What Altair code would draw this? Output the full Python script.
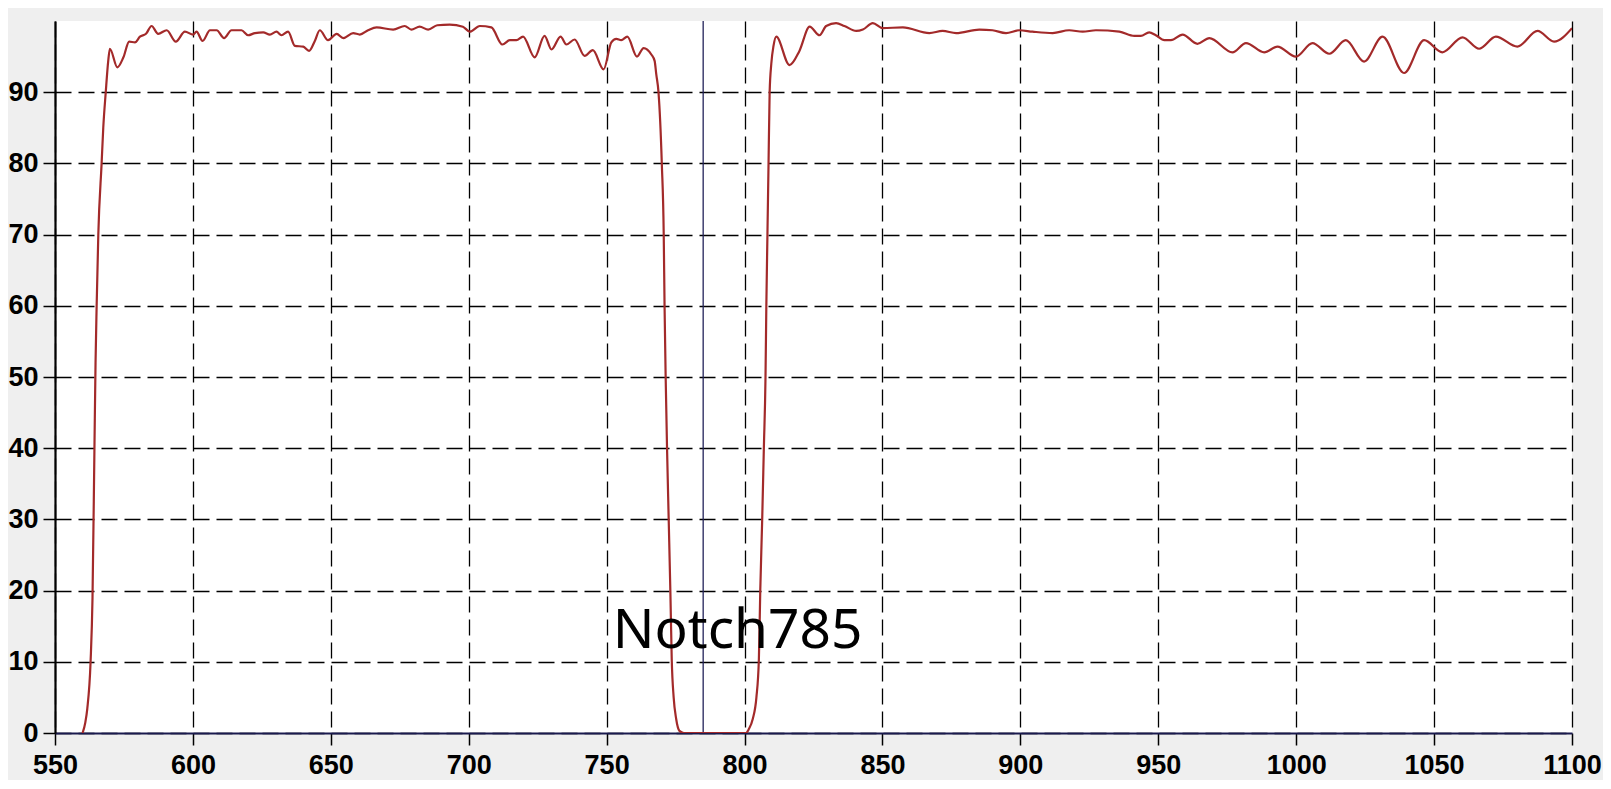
import altair as alt
import pandas as pd

# Transmission curve of the 785 nm notch filter
wavelength = [
    560.0, 561.0, 561.7, 562.9, 563.6, 564.3, 564.7, 565.1, 565.7, 566.9,
    567.5, 568.4, 569.3, 569.9, 572.6, 574.8, 576.9, 579.0, 580.8, 583.0,
    585.0, 587.4, 590.5, 593.8, 597.1, 600.1, 601.3, 603.5, 606.2, 608.6,
    611.3, 614.0, 617.6, 620.0, 622.5, 625.5, 627.9, 630.3, 632.1, 634.5,
    637.0, 640.0, 642.1, 644.2, 646.0, 649.0, 652.1, 654.5, 658.1, 660.5,
    663.5, 666.6, 672.6, 676.8, 679.2, 682.2, 685.3, 688.6, 693.1, 697.9,
    700.4, 704.0, 708.2, 712.2, 714.9, 717.3, 719.7, 723.9, 727.5, 730.0,
    733.3, 735.4, 738.4, 742.0, 745.0, 748.9, 751.7, 753.5, 755.3, 757.5,
    761.0, 763.4, 766.2, 767.4, 768.0, 768.8, 770.0, 770.7, 771.0, 771.4,
    771.9, 772.5, 773.1, 773.6, 774.3, 775.2, 776.4, 778.0,
    800.5, 801.5, 803.0, 804.3, 805.2, 805.7, 806.4, 807.0, 807.6, 807.9,
    808.3, 808.7, 809.1, 809.7, 810.5, 811.5, 816.3, 819.9, 823.6, 827.2,
    829.6, 833.2, 836.2, 840.5, 842.9, 846.5, 850.1, 857.4, 867.0, 871.8,
    876.7, 885.1, 889.9, 894.8, 899.6, 904.4, 911.7, 917.7, 922.6, 927.4,
    935.9, 941.3, 943.7, 946.7, 949.1, 952.2, 954.6, 958.8, 964.2, 968.5,
    976.9, 981.8, 988.4, 993.2, 999.9, 1005.9, 1012.0, 1018.0, 1024.6, 1031.3,
    1039.1, 1046.4, 1053.0, 1060.3, 1066.3, 1072.4, 1080.2, 1087.5, 1093.5, 1100.0,
]
transmission = [
    0.0, 1.5, 3.4, 10.0, 19.0, 40.0, 52.0, 60.0, 70.0, 80.0,
    85.0, 90.0, 94.4, 96.1, 93.5, 94.9, 97.1, 97.0, 97.8, 98.2,
    99.3, 98.2, 98.7, 97.1, 98.5, 98.1, 98.5, 97.2, 98.7, 98.7,
    97.6, 98.7, 98.7, 98.0, 98.3, 98.4, 98.1, 98.5, 98.0, 98.5,
    96.5, 96.4, 95.8, 97.2, 98.7, 97.3, 98.2, 97.6, 98.3, 98.1,
    98.7, 99.1, 98.8, 99.3, 98.8, 99.2, 98.8, 99.4, 99.5, 99.2,
    98.5, 99.3, 99.1, 96.7, 97.3, 97.3, 97.8, 94.9, 97.9, 96.0,
    97.8, 96.7, 97.4, 95.1, 95.9, 93.2, 97.0, 97.5, 97.3, 97.8,
    95.0, 96.2, 95.3, 94.4, 92.5, 90.0, 80.0, 70.0, 60.0, 50.0,
    40.0, 30.0, 20.0, 10.4, 5.0, 2.0, 0.3, 0.0,
    0.0, 0.5, 2.0, 5.0, 10.4, 20.0, 30.0, 40.0, 50.0, 60.0,
    70.0, 80.0, 90.0, 94.0, 96.5, 97.8, 93.8, 95.8, 99.2, 98.0,
    99.3, 99.7, 99.3, 98.6, 98.8, 99.7, 99.0, 99.1, 98.3, 98.6,
    98.3, 98.8, 98.7, 98.3, 98.7, 98.5, 98.3, 98.7, 98.5, 98.7,
    98.5, 97.9, 97.9, 98.4, 98.0, 97.3, 97.3, 98.1, 96.8, 97.6,
    95.6, 96.9, 95.6, 96.4, 95.0, 96.9, 95.4, 97.3, 94.3, 97.8,
    92.7, 97.3, 95.6, 97.7, 96.1, 97.8, 96.4, 98.6, 97.1, 99.0,
]

x_ticks = [550, 600, 650, 700, 750, 800, 850, 900, 950, 1000, 1050, 1100]
y_ticks = [0, 10, 20, 30, 40, 50, 60, 70, 80, 90]

center_wavelength = [785]
label_text = ["Notch785"]
label_x = [752.2]
label_y = [11.9]

curve = pd.DataFrame({"wl": wavelength, "T": transmission})
center = pd.DataFrame({"wl": center_wavelength})
label = pd.DataFrame({"wl": label_x, "T": label_y, "text": label_text})

xscale = alt.Scale(domain=[550, 1100], nice=False, zero=False)
yscale = alt.Scale(domain=[0, 100], nice=False)

xaxis = alt.Axis(values=x_ticks, format="d", title=None, grid=True,
                 gridColor="#000000", gridDash=[16, 7], gridWidth=1.3,
                 domainColor="#1a1a4e", domainWidth=2.2, tickColor="#000000",
                 tickSize=12, tickWidth=1.5, labelFont="Liberation Sans",
                 labelFontWeight="bold", labelFontSize=27, labelColor="#000000",
                 labelPadding=7, labelFlush=False, labelOverlap=False)
yaxis = alt.Axis(values=y_ticks, format="d", title=None, grid=True,
                 gridColor="#000000", gridDash=[16, 7], gridWidth=1.3,
                 domainColor="#000000", domainWidth=2.2, tickColor="#000000",
                 tickSize=12, tickWidth=1.5, labelFont="Liberation Sans",
                 labelFontWeight="bold", labelFontSize=27, labelColor="#000000",
                 labelPadding=5, labelFlush=False, labelOverlap=False)

line = alt.Chart(curve).mark_line(
    color="#a32a2a", strokeWidth=2.2, interpolate="monotone", clip=True
).encode(
    x=alt.X("wl:Q", scale=xscale, axis=xaxis),
    y=alt.Y("T:Q", scale=yscale, axis=yaxis),
)

rule = alt.Chart(center).mark_rule(color="#23235a", strokeWidth=1.3).encode(
    x=alt.X("wl:Q", scale=xscale),
)

text = alt.Chart(label).mark_text(
    font="Noto Sans", fontSize=55, color="#000000", align="left",
    baseline="alphabetic"
).encode(
    x=alt.X("wl:Q", scale=xscale),
    y=alt.Y("T:Q", scale=yscale),
    text="text:N",
)

chart = alt.layer(rule, line, text).properties(
    width=1517, height=712,
    autosize=alt.AutoSizeParams(type="none"),
    padding={"left": 47, "top": 13, "right": 31, "bottom": 47},
    background="#efefef",
).configure_view(fill="#ffffff", stroke=None)

chart.save("out.html", embed_options={"renderer": "svg", "actions": False})
